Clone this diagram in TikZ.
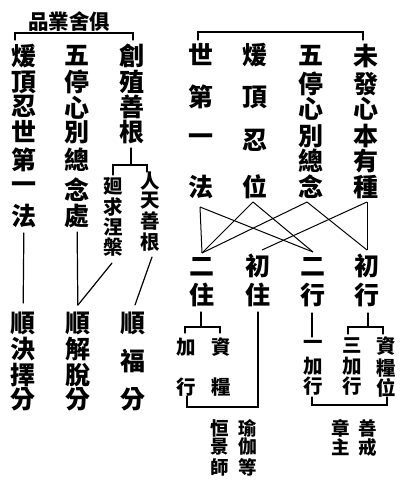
\documentclass[tikz,border=0pt]{standalone}
\usepackage{fontspec}
\newfontfamily\cjk{Noto Sans CJK TC}
\usetikzlibrary{calc}
\tikzset{
  mc/.style={inner sep=0pt, font=\cjk\bfseries\fontsize{25}{25}\selectfont},
  sc/.style={inner sep=0pt, font=\cjk\bfseries\fontsize{19.5}{19.5}\selectfont},
  nc/.style={inner sep=0pt, font=\cjk\bfseries\fontsize{18.5}{18.5}\selectfont},
  tc/.style={inner sep=0pt, font=\cjk\bfseries\fontsize{20.5}{20.5}\selectfont},
  ln/.style={line width=1.2pt, line cap=round},
  xl/.style={line width=1pt}
}
\begin{document}
\begin{tikzpicture}[x=1pt,y=-1pt]
\useasboundingbox[fill=white] (0,0) rectangle (406,492);
% title
\node[tc] (title) at (69,22) {品業舍俱};
% left group columns
\foreach \ch/\yy [count=\i] in {煖/56,頂/82,忍/106,世/132,第/160,一/188,法/216}
  \node[mc] (l1-\i) at (24,\yy) {\ch};
\foreach \ch/\yy [count=\i] in {五/56,停/82,心/108,別/132,總/160,念/190,處/216}
  \node[mc] (l2-\i) at (77,\yy) {\ch};
\foreach \ch/\yy [count=\i] in {創/56,殖/82,善/107,根/132}
  \node[mc] (l3-\i) at (132,\yy) {\ch};
\foreach \ch/\yy [count=\i] in {廻/186,求/207,涅/227,槃/247}
  \node[sc] (sa-\i) at (113,\yy) {\ch};
\foreach \ch/\yy [count=\i] in {人/181,天/201,善/221,根/242}
  \node[sc] (sb-\i) at (150,\yy) {\ch};
\foreach \ch/\yy [count=\i] in {順/323,決/349,擇/375,分/399}
  \node[mc] (b1-\i) at (23,\yy) {\ch};
\foreach \ch/\yy [count=\i] in {順/323,解/349,脫/375,分/399}
  \node[mc] (b2-\i) at (78,\yy) {\ch};
\foreach \ch/\yy [count=\i] in {順/323,福/361,分/399}
  \node[mc] (b3-\i) at (133,\yy) {\ch};
% right group columns
\foreach \ch/\yy [count=\i] in {世/55,第/97,一/140,法/187}
  \node[mc] (a-\i) at (201,\yy) {\ch};
\foreach \ch/\yy [count=\i] in {煖/55,頂/97,忍/140,位/187}
  \node[mc] (b-\i) at (255,\yy) {\ch};
\foreach \ch/\yy [count=\i] in {五/56,停/84,心/109,別/136,總/161,念/187}
  \node[mc] (c-\i) at (311,\yy) {\ch};
\foreach \ch/\yy [count=\i] in {未/56,發/84,心/109,本/136,有/161,種/187}
  \node[mc] (d-\i) at (366,\yy) {\ch};
\foreach \ch/\yy [count=\i] in {二/267,住/295}
  \node[mc] (ru1-\i) at (202,\yy) {\ch};
\foreach \ch/\yy [count=\i] in {初/266,住/295}
  \node[mc] (ru2-\i) at (258,\yy) {\ch};
\foreach \ch/\yy [count=\i] in {二/267,行/295}
  \node[mc] (ru3-\i) at (313,\yy) {\ch};
\foreach \ch/\yy [count=\i] in {初/266,行/295}
  \node[mc] (ru4-\i) at (367,\yy) {\ch};
\foreach \ch/\yy [count=\i] in {加/347,行/387}
  \node[sc] (g1-\i) at (186,\yy) {\ch};
\foreach \ch/\yy [count=\i] in {資/347,糧/387}
  \node[sc] (g2-\i) at (221,\yy) {\ch};
\foreach \ch/\yy [count=\i] in {一/345,加/366,行/386}
  \node[sc] (k1-\i) at (313,\yy) {\ch};
\foreach \ch/\yy [count=\i] in {三/345,加/366,行/386}
  \node[sc] (k2-\i) at (352,\yy) {\ch};
\foreach \ch/\yy [count=\i] in {資/346,糧/368,位/388}
  \node[sc] (k3-\i) at (386,\yy) {\ch};
\foreach \ch/\yy [count=\i] in {恒/428,景/447,師/467}
  \node[nc] (n1-\i) at (220,\yy) {\ch};
\foreach \ch/\yy [count=\i] in {瑜/428,伽/447,等/467}
  \node[nc] (n2-\i) at (248,\yy) {\ch};
\foreach \ch/\yy [count=\i] in {章/428,主/447}
  \node[nc] (n3-\i) at (341,\yy) {\ch};
\foreach \ch/\yy [count=\i] in {善/428,戒/447}
  \node[nc] (n4-\i) at (368,\yy) {\ch};
% brackets on top
\draw[ln] ($(l1-1)+(-9,-16)$) |- ($(l3-1)+(1,-23)$) -- ($(l3-1)+(1,-16)$);
\draw[ln] ($(a-1)+(-3,-15)$) |- ($(d-1)+(-3,-24)$) -- ($(d-1)+(-3,-16)$);
% under 根
\draw[ln] ($(l3-4)+(-1,16)$) -- ($(l3-4)+(-1,33)$);
\draw[ln] ($(sa-1)+(0,-11)$) |- ($(sb-1)+(-3,-16)$) -- ($(sb-1)+(-3,-9)$);
% left lower connectors
\draw[ln, shorten <=17pt, shorten >=20pt] (l1-7.center) -- (b1-1.center);
\draw[ln, shorten <=16pt, shorten >=18pt] (l2-7.center) -- (b2-1.center);
\draw[ln] ($(sa-4)+(-1,16)$) -- ($(b2-1)+(0,-18)$);
\draw[ln] ($(sb-4)+(2,15)$) -- ($(b3-1)+(2,-18)$);
% crossing lines
\coordinate (A) at ($(a-4)+(-1,20)$);
\coordinate (B) at ($(b-4)+(-2,15)$);
\coordinate (C) at ($(c-6)+(-4,15)$);
\coordinate (D) at ($(d-6)+(1,15)$);
\coordinate (P) at ($(ru1-1)+(0,-14)$);
\coordinate (Q) at ($(ru2-1)+(4,-16)$);
\coordinate (R) at ($(ru3-1)+(0,-15)$);
\coordinate (S) at ($(ru4-1)+(0,-16)$);
\draw[xl] (A) -- (P);
\draw[xl] (A) -- (R);
\draw[xl] (B) -- (P);
\draw[xl] (B) -- (R);
\draw[xl] (C) -- (P);
\draw[xl] (C) -- (S);
\draw[xl] (D) -- (S);
\draw[xl] (D) -- (Q);
% right lower
\draw[ln] ($(ru1-2)+(-1,17)$) -- ($(ru1-2)+(-1,32)$);
\draw[ln] ($(g1-1)+(-1,-14)$) |- ($(g2-1)+(-1,-20)$) -- ($(g2-1)+(-1,-14)$);
\draw[ln] ($(ru2-2)+(0,17)$) |- ($(g1-2)+(1,20)$) -- ($(g1-2)+(1,9)$);
\draw[ln] ($(ru3-2)+(-1,18)$) -- ($(k1-1)+(-1,-8)$);
\draw[ln] ($(ru4-2)+(1,18)$) -- ($(ru4-2)+(1,32)$);
\draw[ln] ($(k2-1)+(-4,-11)$) |- ($(k3-1)+(-3,-19)$) -- ($(k3-1)+(-3,-12)$);
\draw[ln] ($(k1-3)+(-1,11)$) |- ($(k3-3)+(1,17)$) -- ($(k3-3)+(1,9)$);
\end{tikzpicture}
\end{document}
